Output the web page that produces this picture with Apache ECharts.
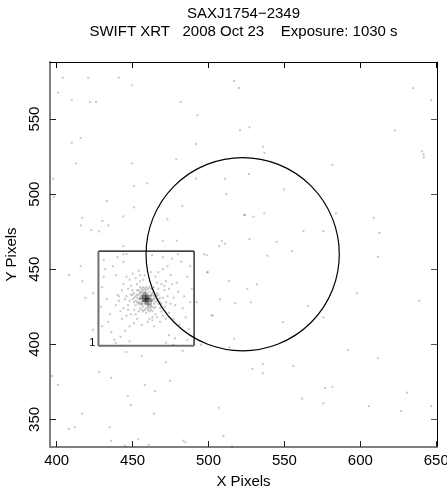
<!DOCTYPE html>
<html><head><meta charset="utf-8">
<script src="https://cdn.jsdelivr.net/npm/echarts@6/dist/echarts.min.js"></script>
<style>html,body{margin:0;padding:0;background:#fff}#c{width:447px;height:493px}</style>
</head><body><div id="c"></div>
<script>
const titleLines = ['SAXJ1754\u22122349', 'SWIFT XRT   2008 Oct 23    Exposure: 1030 s'];
const xTicks = [400, 450, 500, 550, 600, 650];
const yTicks = [350, 400, 450, 500, 550];
const xRange = [395.6, 650.5];
const yRange = [331.6, 588];
// extraction circle: centre x, centre y, radius (pixels)
const regionCircle = [522.5, 460, 64];
// source box: x0, y0, x1, y1
const regionBox = [427.5, 399, 490.5, 462];
const boxLabel = '1';
// background events
const bgEvents = [
[404.0,577.5],[420.8,577.5],[440.9,577.5],[449.8,572.5],[400.9,567.6],[409.9,562.5],[422.0,561.4],[425.9,561.4],
[481.7,561.4],[516.9,575.3],[520.0,570.7],[492.7,552.5],[520.8,542.5],[527.0,544.5],[409.9,534.3],[415.8,537.4],
[491.8,533.4],[412.9,520.5],[449.8,520.5],[478.8,523.2],[397.8,510.3],[398.2,498.3],[451.0,505.4],[459.7,507.2],
[491.8,510.3],[510.9,510.3],[511.8,500.1],[433.0,495.4],[451.0,491.2],[482.8,492.1],[416.9,484.3],[416.0,479.2],
[422.8,476.1],[427.9,475.2],[430.1,482.1],[434.0,479.2],[443.9,485.2],[472.9,483.2],[523.9,486.3],[527.0,470.1],
[469.9,469.0],[479.1,469.0],[508.8,469.0],[510.9,467.0],[507.0,465.3],[443.9,465.3],[443.9,460.0],[462.8,459.3],
[497.1,460.0],[498.9,459.3],[535.8,531.6],[536.8,527.6],[526.7,513.4],[549.8,503.2],[523.6,486.1],[529.6,485.0],
[536.8,487.2],[562.5,475.4],[575.7,475.4],[545.0,468.3],[554.9,462.1],[538.8,459.0],[499.7,448.0],[513.4,442.1],
[531.8,439.9],[525.6,437.0],[507.6,430.0],[517.7,427.3],[527.9,428.0],[565.6,425.5],[502.8,419.0],[549.0,414.8],
[575.7,418.0],[516.9,403.7],[513.8,398.0],[483.0,395.7],[456.0,392.2],[471.8,388.0],[528.9,383.7],[535.8,386.9],
[555.9,385.5],[492.3,428.0],[611.6,458.3],[597.7,434.0],[638.8,429.0],[591.8,396.2],[611.6,390.7],[535.8,380.7],
[576.8,370.9],[581.6,371.7],[561.7,363.8],[575.7,360.7],[605.6,358.9],[626.7,355.6],[630.7,367.8],[646.7,358.9],
[438.9,401.0],[476.9,399.7],[495.1,399.7],[445.9,394.9],[427.9,381.7],[435.8,377.7],[397.1,378.9],[400.9,372.9],
[458.0,372.9],[474.7,375.7],[464.8,368.7],[446.8,365.6],[448.8,359.6],[416.9,353.8],[464.0,353.8],[506.8,357.8],
[407.9,343.6],[411.9,344.7],[434.9,344.7],[509.8,338.8],[435.8,335.8],[453.8,336.7],[483.4,335.8],[484.8,334.7],
[444.8,332.5],[460.6,333.1],[515.5,331.8],[408.1,446.1],[415.8,452.1],[416.9,442.0],[418.9,431.0],[424.1,434.0],
[423.9,409.7],[634.8,570.5],[646.7,562.5],[622.8,542.5],[640.7,528.5],[641.6,526.5],[641.9,524.5],[581.6,519.4],
[583.9,487.2],[608.7,484.3],[612.6,474.1],[499.0,448.0],[502.0,419.5]
];
// source events (core)
const srcCore = [
[459,430],[459,431],[458,430],[460,430],[459,429],[458,431],[460,431],[458,429],[460,429],[459,432],
[457,430],[461,430],[459,428],[458,432],[460,432],[457,431],[461,429],[457,429],[461,431],[459,430.5],
[458.5,430],[459.5,429.5],[458,428],[460,428],[459,433],[462,430],[456,430],[458,433],[460,427],[457,432],
[459,431],[458,430],[460,431],[459,429],[457,431],[461,430],[458,432],[460,428],[459,430],[458,429],
[460,430],[459,432],[457,429],[461,432],[456,431],[462,429],[458,434],[460,426],[456,428],[462,432],
[459,427],[459,434],[457,433],[461,427],[455,431],[463,429],[460,433],[458,427],[456,432],[462,428]
];
// source events (inner halo)
const srcInner = [
[455,434],[463,434],[456,426],[462,426],[454,430],[464,430],[459,436],[459,424],[453,433],[465,428],
[457,436],[461,424],[452,429],[466,432],[456,437],[462,423],[454,427],[464,435],[451,431],[467,430],
[458,437],[460,423],[453,436],[465,425],[455,424],[463,437],[450,433],[468,428],[457,422],[461,438],
[452,426],[466,434],[455,438],[463,422],[454,422],[464,438],[451,428],[467,433],[459,438],[459,421],
[456,433],[462,433],[456,427],[462,427],[453,431],[465,431],[458,435],[460,425],[455,430],[463,430],
[457,434],[461,426],[464,432],[454,428],[455,435],[463,425],[457,425],[461,435],[454,433],[464,427],
[452,432],[466,429],[456,423],[462,437],[453,428],[465,433],[458,423],[460,437],[455,427],[463,433],
[451,434],[467,427],[457,438],[461,422],[450,430],[468,431],[454,436],[464,424],[456,435],[462,425]
];
// source events (outer halo)
const srcOuter = [
[447,437],[471,425],[449,420],[469,440],[445,430],[473,432],[452,444],[466,418],[448,443],[470,419],
[444,424],[474,437],[455,446],[463,416],[446,419],[472,442],[443,436],[475,427],[450,447],[468,415],
[441,429],[477,431],[453,417],[465,445],[447,426],[471,436],[458,446],[460,415],[444,440],[474,421],
[451,414],[467,448],[442,422],[476,440],[456,413],[462,448],[449,439],[469,422],[446,445],[472,417],
[440,433],[478,426],[454,449],[464,412],[443,417],[475,446],[448,412],[470,450],[439,426],[480,435],
[449,433],[469,427],[451,423],[467,437],[448,429],[470,431],[453,440],[465,420],[450,436],[468,424],
[446,432],[472,428],[452,420],[466,441],[455,442],[463,418],[447,423],[471,439],[457,443],[461,417],
[432,450],[485,418],[436,408],[482,455],[430,438],[488,428],[440,458],[478,404],[434,415],[486,445],
[444,455],[474,406],[429,425],[489,437],[438,403],[480,460],[431,445],[487,410],[446,460],[472,401],
[433,430],[484,432],[437,452],[481,413],[442,405],[476,457],[430,412],[488,452],[448,402],[470,458],
[435,420],[483,424],[439,446],[479,441],[445,409],[473,452],[431,456],[486,403],[441,432],[477,417]
];

const FONT = 'Liberation Sans, Arial, Helvetica, sans-serif';
const chart = echarts.init(document.getElementById('c'), null, {renderer: 'canvas'});
const dotStyle = {color: 'rgba(0,0,0,0.27)'};
const axisCommon = {splitLine: {show: false}};
chart.setOption({
  animation: false,
  backgroundColor: '#fff',
  graphic: [
    {type: 'text', x: 243.5, y: 14, style: {text: titleLines[0], font: '15px ' + FONT, fill: '#000', align: 'center', verticalAlign: 'middle'}},
    {type: 'text', x: 243.5, y: 32, style: {text: titleLines[1], font: '15px ' + FONT, fill: '#000', align: 'center', verticalAlign: 'middle'}}
  ],
  grid: {left: 50, right: 10, top: 62, bottom: 46, containLabel: false, outerBoundsMode: 'none'},
  xAxis: [
    {type: 'value', min: xRange[0], max: xRange[1], position: 'bottom',
     name: 'X Pixels', nameLocation: 'middle', nameGap: 27,
     nameTextStyle: {fontFamily: FONT, fontSize: 15, color: '#000'},
     axisLine: {lineStyle: {color: '#808080', width: 2}},
     axisTick: {inside: true, length: 6, lineStyle: {color: '#222'}, customValues: xTicks},
     axisLabel: {fontFamily: FONT, fontSize: 15, color: '#000', margin: 6, customValues: xTicks},
     ...axisCommon},
    {type: 'value', min: xRange[0], max: xRange[1], position: 'top',
     axisLine: {lineStyle: {color: '#000', width: 1}},
     axisTick: {inside: true, length: 6, lineStyle: {color: '#000'}, customValues: xTicks},
     axisLabel: {show: false}, ...axisCommon}
  ],
  yAxis: [
    {type: 'value', min: yRange[0], max: yRange[1], position: 'left',
     name: 'Y Pixels', nameLocation: 'middle', nameGap: 29,
     nameTextStyle: {fontFamily: FONT, fontSize: 15, color: '#000'},
     axisLine: {lineStyle: {color: '#808080', width: 2}},
     axisTick: {inside: true, length: 6, lineStyle: {color: '#222'}, customValues: yTicks},
     axisLabel: {fontFamily: FONT, fontSize: 15, color: '#000', margin: 8, rotate: 90, customValues: yTicks},
     ...axisCommon},
    {type: 'value', min: yRange[0], max: yRange[1], position: 'right',
     axisLine: {lineStyle: {color: '#000', width: 1}},
     axisTick: {inside: true, length: 6, lineStyle: {color: '#555'}, customValues: yTicks},
     axisLabel: {show: false}, ...axisCommon}
  ],
  series: [
    {type: 'scatter', data: bgEvents, symbol: 'rect', symbolSize: 2, itemStyle: dotStyle, silent: true},
    {type: 'scatter', data: srcOuter, symbol: 'rect', symbolSize: 2, itemStyle: dotStyle, silent: true},
    {type: 'scatter', data: srcInner, symbol: 'rect', symbolSize: 2, itemStyle: dotStyle, silent: true},
    {type: 'scatter', data: srcCore, symbol: 'rect', symbolSize: 2.5, itemStyle: dotStyle, silent: true},
    {type: 'custom', silent: true, data: [regionCircle],
     renderItem: function (params, api) {
       const c = api.coord([api.value(0), api.value(1)]);
       const s = api.size([api.value(2), api.value(2)]);
       return {type: 'circle', shape: {cx: c[0], cy: c[1], r: (s[0] + s[1]) / 2},
               style: {fill: 'none', stroke: '#000', lineWidth: 1.2}};
     }},
    {type: 'custom', silent: true, data: [regionBox],
     renderItem: function (params, api) {
       const p0 = api.coord([api.value(0), api.value(1)]);
       const p1 = api.coord([api.value(2), api.value(3)]);
       return {type: 'group', children: [
         {type: 'line', shape: {x1: p0[0], y1: p1[1], x2: p1[0], y2: p1[1]}, style: {stroke: '#000', lineWidth: 1.2}},
         {type: 'line', shape: {x1: p1[0], y1: p1[1], x2: p1[0], y2: p0[1]}, style: {stroke: '#000', lineWidth: 1.2}},
         {type: 'line', shape: {x1: p0[0], y1: p0[1], x2: p1[0], y2: p0[1]}, style: {stroke: '#707070', lineWidth: 2}},
         {type: 'line', shape: {x1: p0[0], y1: p0[1], x2: p0[0], y2: p1[1]}, style: {stroke: '#707070', lineWidth: 2}},
         {type: 'text', x: p0[0] - 3, y: p0[1] - 3, style: {text: boxLabel, font: '11px ' + FONT, fill: '#000', align: 'right', verticalAlign: 'middle'}}
       ]};
     }}
  ]
});
</script></body></html>
